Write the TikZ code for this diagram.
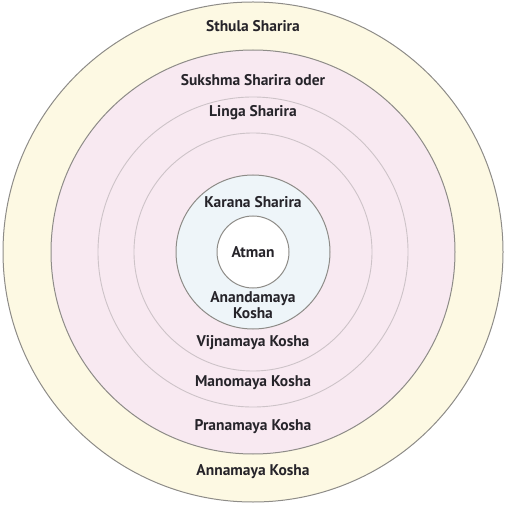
\documentclass[tikz,border=0pt]{standalone}
\usepackage{fontspec}
\setmainfont{PT Sans}
\usepackage{xcolor}
\usepackage{tikz}

\definecolor{sthulafill}{HTML}{FDF9E3}
\definecolor{sukshmafill}{HTML}{F8E9F1}
\definecolor{karanafill}{HTML}{EEF5F9}
\definecolor{ringline}{HTML}{8E8C88}
\definecolor{thinline}{HTML}{CDC3C8}
\definecolor{layertext}{HTML}{26242A}

\begin{document}
\begin{tikzpicture}[x=1pt,y=1pt,
    ring/.style={draw=ringline, line width=1pt},
    thinring/.style={draw=thinline, line width=0.9pt},
    layer/.style={font=\bfseries\fontsize{15.5}{16}\selectfont, text=layertext, align=center, inner sep=0pt}]
  \useasboundingbox (0,0) rectangle (506,504);
  \coordinate (c) at (253,252);
  % the bodies, outside in
  \fill[sthulafill] (c) circle (250);
  \draw[ring] (c) circle (250);
  \fill[sukshmafill] (c) circle (202);
  \draw[ring] (c) circle (202);
  \draw[thinring] (c) circle (155);
  \draw[thinring] (c) circle (119);
  \fill[karanafill] (c) circle (77);
  \draw[ring] (c) circle (77);
  \fill[white] (c) circle (36);
  \draw[ring] (c) circle (36);
  % texts
  \node[layer] (sthula) at (253,478) {Sthula Sharira};
  \node[layer] (sukshma) at (253,424) {Sukshma Sharira oder};
  \node[layer] (linga) at (253,391) {Linga Sharira};
  \node[layer] (karana) at (253,302) {Karana Sharira};
  \node[layer] (atman) at (c) {Atman};
  \node[layer] (ananda) at (253,199) {Anandamaya\\Kosha};
  \node[layer] (vijna) at (253,161) {Vijnamaya Kosha};
  \node[layer] (mano) at (253,121) {Manomaya Kosha};
  \node[layer] (prana) at (253,77) {Pranamaya Kosha};
  \node[layer] (anna) at (253,32) {Annamaya Kosha};
\end{tikzpicture}
\end{document}
